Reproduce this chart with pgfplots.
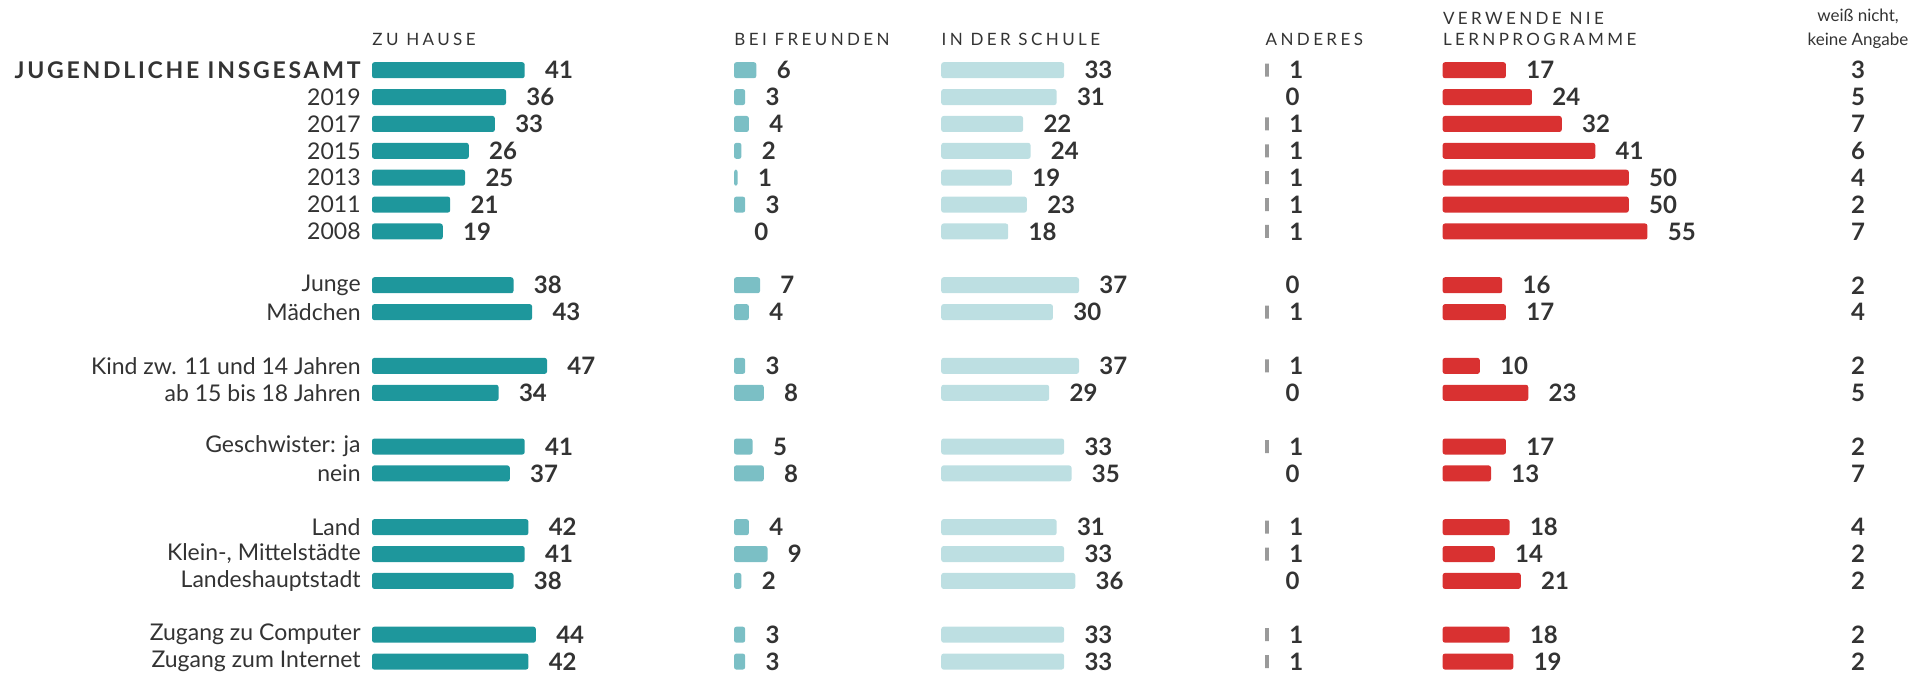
\documentclass[border=0pt]{standalone}
\usepackage{pgfplots}
\pgfplotsset{compat=1.18}
\usepackage{pgfplotstable}
\usepackage{fontspec}
\setmainfont{Lato}
\newfontfamily\spaced[LetterSpace=20]{Lato}
\newfontfamily\spacedJ[LetterSpace=12]{Lato}
\definecolor{txt}{HTML}{333333}
\definecolor{cHome}{HTML}{1E979C}
\definecolor{cFriends}{HTML}{7BBFC5}
\definecolor{cSchool}{HTML}{BDDFE2}
\definecolor{cOther}{HTML}{9A9A9A}
\definecolor{cNever}{HTML}{D93131}

\pgfplotstableread{
y  home friends school other never dk
0  41   6       33     1     17    3
1  36   3       31     0     24    5
2  33   4       22     1     32    7
3  26   2       24     1     41    6
4  25   1       19     1     50    4
5  21   3       23     1     50    2
6  19   0       18     1     55    7
8  38   7       37     0     16    2
9  43   4       30     1     17    4
11 47   3       37     1     10    2
12 34   8       29     0     23    5
14 41   5       33     1     17    2
15 37   8       35     0     13    7
17 42   4       31     1     18    4
18 41   9       33     1     14    2
19 38   2       36     0     21    2
21 44   3       33     1     18    2
22 42   3       33     1     19    2
}\data

\pgfplotsset{
  rowaxis/.style={
    x=1.862pt, y=13.44pt, y dir=reverse,
    ymin=-0.5, ymax=22.5, xmin=0, xmax=60,
    enlargelimits=false,
    axis line style={draw=none}, tick style={draw=none},
    xtick=\empty, ytick=\empty,
    clip=false, anchor=north west,
    /pgf/number format/assume math mode=true,
  },
  barplot/.style={
    xbar, bar width=8pt, bar shift=0pt, draw=none,
    restrict x to domain=0.5:100,
  },
  labelplot/.style={
    xbar, bar width=8pt, bar shift=0pt, draw=none, fill=none,
    nodes near coords, point meta=x,
    nodes near coords style={anchor=west, inner sep=0pt, xshift=10pt,
      font=\fontsize{12}{14}\selectfont\bfseries, text=txt},
  }
}

\begin{document}
\begin{tikzpicture}
% column 1: zu Hause, with row labels
\begin{axis}[rowaxis, at={(186pt,-28.38pt)},
  ytick={0,1,2,3,4,5,6,8,9,11,12,14,15,17,18,19,21,22},
  yticklabels={{\fontsize{11.5}{13}\spacedJ\bfseries JUGENDLICHE INSGESAMT},2019,2017,2015,2013,2011,2008,
    Junge,Mädchen,{Kind zw. 11 und 14 Jahren},{ab 15 bis 18 Jahren},
    {Geschwister: ja},nein,Land,{Klein-, Mittelstädte},Landeshauptstadt,
    {Zugang zu Computer},{Zugang zum Internet}},
  yticklabel style={anchor=east, inner sep=0pt, xshift=-5.5pt,
    font=\fontsize{11.5}{13}\selectfont, text=txt}]
\addplot[barplot, fill=cHome, rounded corners=1.2pt] table[x=home, y=y]{\data};
\addplot[labelplot] table[x=home, y=y]{\data};
\end{axis}
% column 2
\begin{axis}[rowaxis, at={(367pt,-28.38pt)}]
\addplot[barplot, fill=cFriends, rounded corners=1.2pt] table[x=friends, y=y]{\data};
\addplot[labelplot] table[x=friends, y=y]{\data};
\end{axis}
% column 3
\begin{axis}[rowaxis, at={(470.6pt,-28.38pt)}]
\addplot[barplot, fill=cSchool, rounded corners=1.2pt] table[x=school, y=y]{\data};
\addplot[labelplot] table[x=school, y=y]{\data};
\end{axis}
% column 4
\begin{axis}[rowaxis, at={(632.6pt,-28.38pt)}]
\addplot[barplot, fill=cOther, bar width=6.5pt] table[x=other, y=y]{\data};
\addplot[labelplot] table[x=other, y=y]{\data};
\end{axis}
% column 5
\begin{axis}[rowaxis, at={(721.3pt,-28.38pt)}]
\addplot[barplot, fill=cNever, rounded corners=1.2pt] table[x=never, y=y]{\data};
\addplot[labelplot] table[x=never, y=y]{\data};
\end{axis}
% column 6
\begin{axis}[rowaxis, at={(929pt,-28.38pt)}, xmin=0, xmax=1]
\addplot[draw=none, mark=none, nodes near coords, point meta=explicit,
  nodes near coords style={anchor=center, inner sep=0pt,
    font=\fontsize{12}{14}\selectfont\bfseries, text=txt}]
  table[x expr=0, y=y, meta=dk]{\data};
\end{axis}

% headers
\begin{scope}[every node/.style={text=txt, inner sep=0pt}]
\node[anchor=west, font=\fontsize{8.5}{10}\spaced] at (186pt,-19.7pt) {ZU HAUSE};
\node[anchor=west, font=\fontsize{8.5}{10}\spaced] at (367pt,-19.7pt) {BEI FREUNDEN};
\node[anchor=west, font=\fontsize{8.5}{10}\spaced] at (470.6pt,-19.7pt) {IN DER SCHULE};
\node[anchor=west, font=\fontsize{8.5}{10}\spaced] at (632.6pt,-19.7pt) {ANDERES};
\node[anchor=west, align=left, font=\fontsize{8.5}{10.45}\spaced] at (721.3pt,-14.5pt) {VERWENDE NIE\\LERNPROGRAMME};
\node[anchor=center, align=center, font=\fontsize{8.5}{11.85}\selectfont] at (929pt,-14.4pt) {weiß nicht,\\keine Angabe};
\end{scope}

\pgfresetboundingbox
\path[use as bounding box] (0,-337pt) rectangle (966pt,0pt);
\end{tikzpicture}
\end{document}
